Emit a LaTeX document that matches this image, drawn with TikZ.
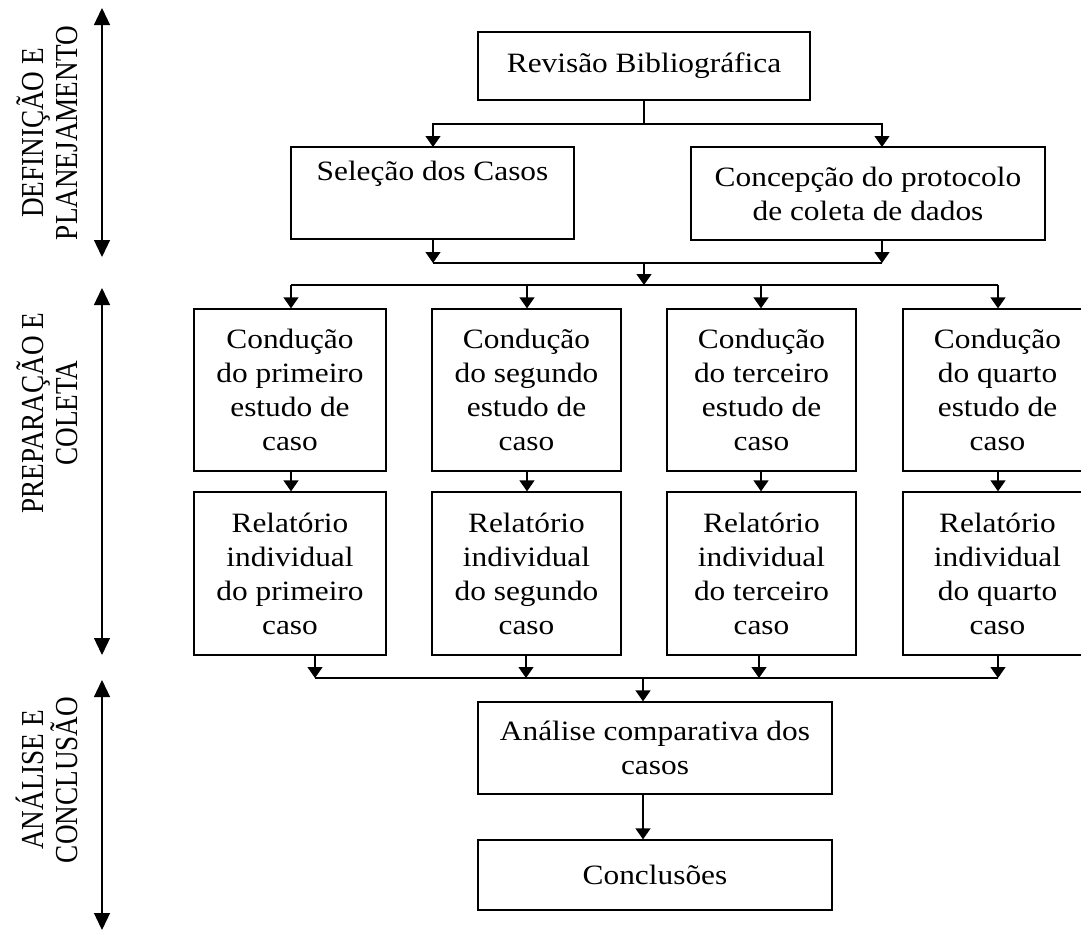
\documentclass[tikz,border=0pt]{standalone}
\usepackage{fontspec}
\setmainfont[FakeStretch=1.12]{Liberation Serif}
\newfontfamily\lblfont[FakeStretch=0.85]{Liberation Serif}
\usetikzlibrary{arrows.meta}
\tikzset{
  box/.style={draw, line width=1.3pt, rectangle, inner sep=0pt, align=center,
    font=\fontsize{28}{34}\selectfont},
  conn/.style={line width=1.3pt},
  arr/.style={line width=1.3pt, -{Triangle[width=15pt,length=11pt]}},
  phase/.style={line width=1.3pt, {Triangle[width=16pt,length=17pt]}-{Triangle[width=16pt,length=17pt]}},
  lbl/.style={rotate=90, align=center, inner sep=0pt, font=\lblfont\fontsize{32}{34}\selectfont}
}
\begin{document}
\begin{tikzpicture}[x=1pt,y=-1pt]
\useasboundingbox (0,0) rectangle (1081,932);
% boxes
\node[box, minimum width=332pt, minimum height=68pt] (rev) at (644,66) {Revisão Bibliográfica};
\node[box, minimum width=283pt, minimum height=92pt] (sel) at (432.5,193) {Seleção dos Casos\\\strut};
\node[box, minimum width=354pt, minimum height=93pt] (con) at (868,193.5) {Concepção do protocolo\\de coleta de dados};
\node[box, minimum width=192pt, minimum height=162pt] (c1) at (290,390) {Condução\\do primeiro\\estudo de\\caso};
\node[box, minimum width=189pt, minimum height=162pt] (c2) at (526.5,390) {Condução\\do segundo\\estudo de\\caso};
\node[box, minimum width=189pt, minimum height=162pt] (c3) at (761.5,390) {Condução\\do terceiro\\estudo de\\caso};
\node[box, minimum width=189pt, minimum height=162pt] (c4) at (997.5,390) {Condução\\do quarto\\estudo de\\caso};
\node[box, minimum width=192pt, minimum height=163pt] (r1) at (290,573.5) {Relatório\\individual\\do primeiro\\caso};
\node[box, minimum width=189pt, minimum height=163pt] (r2) at (526.5,573.5) {Relatório\\individual\\do segundo\\caso};
\node[box, minimum width=189pt, minimum height=163pt] (r3) at (761.5,573.5) {Relatório\\individual\\do terceiro\\caso};
\node[box, minimum width=189pt, minimum height=163pt] (r4) at (997.5,573.5) {Relatório\\individual\\do quarto\\caso};
\node[box, minimum width=354pt, minimum height=92pt] (ana) at (655,748) {Análise comparativa dos\\casos};
\node[box, minimum width=354pt, minimum height=70pt] (conc) at (655,875) {Conclusões};
% junction coordinates
\coordinate (j1) at (644,124);
\coordinate (j2) at (644,263);
\coordinate (j3) at (644,285);
\coordinate (j4) at (643,678);
% connectors
\draw[conn] (rev.south) -- (j1);
\draw[arr] (j1) -| (433,147) coordinate (selin);
\draw[arr] (j1) -| (882,147) coordinate (conin);
\draw[arr] (sel.south -| 433,0) -- (433,263);
\draw[arr] (con.south -| 882,0) -- (882,263);
\draw[conn] (433,263) -- (882,263);
\draw[arr] (j2) -- (j3);
\draw[conn] (291,285) -- (998,285);
\draw[arr] (291,285) -- (c1.north -| 291,0);
\draw[arr] (527,285) -- (c2.north -| 527,0);
\draw[arr] (761,285) -- (c3.north -| 761,0);
\draw[arr] (998,285) -- (c4.north -| 998,0);
\draw[arr] (c1.south -| 291,0) -- (r1.north -| 291,0);
\draw[arr] (c2.south -| 527,0) -- (r2.north -| 527,0);
\draw[arr] (c3.south -| 761,0) -- (r3.north -| 761,0);
\draw[arr] (c4.south -| 998,0) -- (r4.north -| 998,0);
\draw[arr] (r1.south -| 315,0) -- (315,678);
\draw[arr] (r2.south -| 526,0) -- (526,678);
\draw[arr] (r3.south -| 759,0) -- (759,678);
\draw[arr] (r4.south -| 998,0) -- (998,678);
\draw[conn] (315,678) -- (998,678);
\draw[arr] (j4) -- (ana.north -| 643,0);
\draw[arr] (ana.south -| 643,0) -- (conc.north -| 643,0);
% phase arrows and labels
\coordinate (p1a) at (102,8);  \coordinate (p1b) at (102,257);
\coordinate (p2a) at (102,288); \coordinate (p2b) at (102,655);
\coordinate (p3a) at (102,680); \coordinate (p3b) at (102,930);
\draw[phase] (p1a) -- (p1b);
\draw[phase] (p2a) -- (p2b);
\draw[phase] (p3a) -- (p3b);
\node[lbl] (l1) at (47,133) {DEFINIÇÃO E\\PLANEJAMENTO};
\node[lbl] (l2) at (47,413) {PREPARAÇÃO E\\COLETA};
\node[lbl] (l3) at (47,780) {ANÁLISE E\\CONCLUSÃO};
\end{tikzpicture}
\end{document}
